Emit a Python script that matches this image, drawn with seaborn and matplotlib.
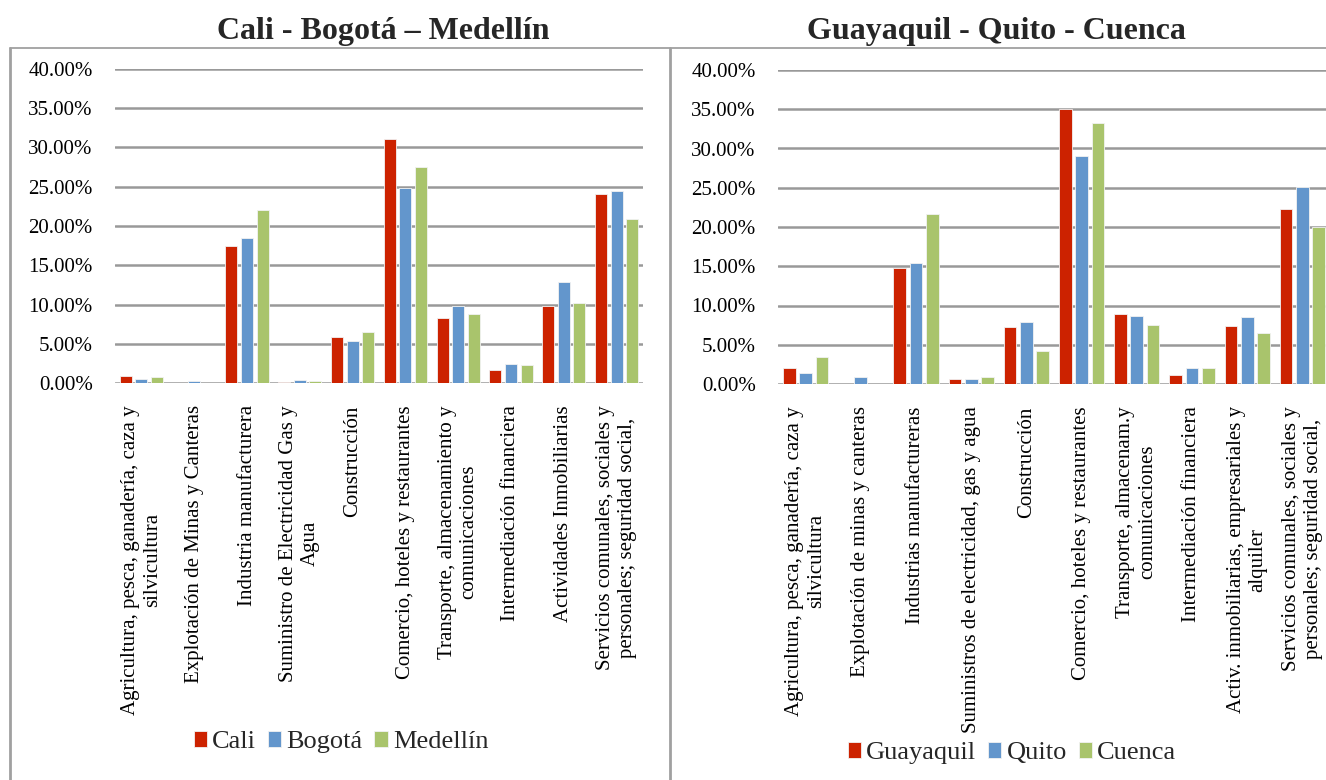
import matplotlib
matplotlib.use("Agg")
import matplotlib.pyplot as plt
from matplotlib.lines import Line2D
import seaborn as sns
import pandas as pd

# data (percent)
left_title = "Cali - Bogotá – Medellín"
left_cities = ["Cali", "Bogotá", "Medellín"]
left_sectors = [
    "Agricultura, pesca, ganadería, caza y\nsilvicultura",
    "Explotación de Minas y Canteras",
    "Industria manufacturera",
    "Suministro de Electricidad Gas y\nAgua",
    "Construcción",
    "Comercio, hoteles y restaurantes",
    "Transporte, almacenamiento y\ncomunicaciones",
    "Intermediación financiera",
    "Actividades Inmobiliarias",
    "Servicios comunales, sociales y\npersonales; seguridad social,",
]
cali = [0.95, 0.0, 17.5, 0.17, 5.85, 31.05, 8.3, 1.6, 9.8, 24.1]
bogota = [0.45, 0.3, 18.5, 0.4, 5.3, 24.9, 9.75, 2.45, 12.85, 24.5]
medellin = [0.8, 0.05, 22.05, 0.25, 6.45, 27.5, 8.75, 2.25, 10.25, 20.85]

right_title = "Guayaquil - Quito - Cuenca"
right_cities = ["Guayaquil", "Quito", "Cuenca"]
right_sectors = [
    "Agricultura, pesca, ganadería, caza y\nsilvicultura",
    "Explotación de minas y canteras",
    "Industrias manufactureras",
    "Suministros de electricidad, gas y agua",
    "Construcción",
    "Comercio, hoteles y restaurantes",
    "Transporte, almacenam.y\ncomunicaciones",
    "Intermediación financiera",
    "Activ. inmobiliarias, empresariales y\nalquiler",
    "Servicios comunales, sociales y\npersonales; seguridad social,",
]
guayaquil = [2.0, 0.0, 14.8, 0.7, 7.3, 35.05, 8.9, 1.1, 7.45, 22.35]
quito = [1.45, 0.85, 15.4, 0.6, 7.9, 29.0, 8.7, 2.0, 8.55, 25.1]
cuenca = [3.5, 0.0, 21.7, 0.95, 4.2, 33.3, 7.5, 2.0, 6.5, 20.0]

colors = ["#CC2200", "#6396CC", "#A9C46C"]
W, H = 1326, 780

sns.set_style("white")
plt.rcParams["font.family"] = ["Liberation Serif", "DejaVu Serif"]


def to_long(sectors, cities, series):
    rows = []
    for city, vals in zip(cities, series):
        for s, v in zip(sectors, vals):
            rows.append({"sector": s, "ciudad": city, "valor": v})
    return pd.DataFrame(rows)


def draw_panel(fig, rect, sectors, cities, series, title, title_xy, legend_xy):
    ax = fig.add_axes(rect)
    df = to_long(sectors, cities, series)
    sns.barplot(data=df, x="sector", y="valor", hue="ciudad", order=sectors,
                hue_order=cities, palette=colors, saturation=1, width=0.885, gap=0.22,
                edgecolor="#f2f2f2", linewidth=0.6, ax=ax)
    ax.set_ylim(0, 40)
    ax.set_xlim(-0.5, len(sectors) - 0.5)
    ax.set_yticks(range(0, 41, 5))
    ax.set_yticklabels([f"{v:.2f}%" for v in range(0, 41, 5)])
    ax.set_axisbelow(True)
    ax.grid(axis="y", color="#999999", linewidth=1.8)
    ax.grid(axis="x", visible=False)
    for sp in ax.spines.values():
        sp.set_visible(False)
    ax.tick_params(axis="y", length=0, pad=16, labelsize=15, labelcolor="black")
    ax.tick_params(axis="x", length=0, pad=16, labelcolor="black")
    ax.set_xticks(range(len(sectors)))
    ax.set_xticklabels(sectors, rotation=90, ha="center", va="top",
                       multialignment="center", fontsize=15)
    ax.set_xlabel("")
    ax.set_ylabel("")
    sns.move_legend(ax, loc="center", bbox_to_anchor=(legend_xy[0] / W, 1 - legend_xy[1] / H),
                    bbox_transform=fig.transFigure, ncol=3, frameon=False, title=None,
                    fontsize=19, handlelength=0.5, handleheight=0.55,
                    handletextpad=0.2, columnspacing=0.45, borderpad=0)
    fig.text(title_xy[0] / W, 1 - title_xy[1] / H, title, ha="center", va="center",
             fontsize=23, fontweight="bold")
    return ax


fig = plt.figure(figsize=(W / 100, H / 100), dpi=100)

# frame lines around the two panels
def fline(x0, y0, x1, y1, lw):
    fig.add_artist(Line2D([x0 / W, x1 / W], [1 - y0 / H, 1 - y1 / H],
                          color="#a0a0a0", linewidth=lw, transform=fig.transFigure))

fline(10, 48, 1326, 48, 1.3)
fline(10, 48, 10, 780, 2.0)
fline(670, 48, 670, 780, 2.0)

draw_panel(fig, [115 / W, 1 - 383 / H, 528 / W, 314 / H], left_sectors, left_cities,
           [cali, bogota, medellin], left_title, (383, 31), (341, 742))
draw_panel(fig, [778 / W, 1 - 384 / H, 552 / W, 314 / H], right_sectors, right_cities,
           [guayaquil, quito, cuenca], right_title, (996, 31), (1012, 753))

fig.savefig("out.png", dpi=100)
